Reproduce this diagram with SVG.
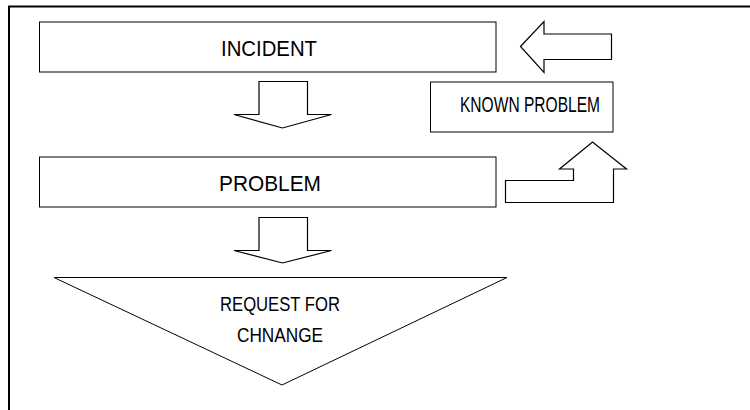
<svg xmlns="http://www.w3.org/2000/svg" width="750" height="410" viewBox="0 0 750 410">
  <style>
    .box { fill: #ffffff; stroke: #000000; stroke-width: 1; }
    .arrow { fill: #ffffff; stroke: #000000; stroke-width: 1.2; stroke-linejoin: miter; }
    .frame { fill: none; stroke: #000000; stroke-width: 2; }
    .label { font-family: "Liberation Sans", Arial, sans-serif; font-size: 22.5px; fill: #000000; text-anchor: middle; }
    .small { font-family: "Liberation Sans", Arial, sans-serif; font-size: 20px; fill: #000000; text-anchor: middle; }
  </style>
  <rect width="750" height="410" fill="#ffffff"/>
  <!-- outer frame: left and top edges only -->
  <path class="frame" d="M9,410 V6.5 H750"/>

  <g id="incident">
    <rect class="box" x="39.5" y="22" width="456.5" height="50"/>
    <text class="label" x="269" y="56" textLength="96" lengthAdjust="spacingAndGlyphs">INCIDENT</text>
  </g>

  <g id="known-problem">
    <rect class="box" x="430.5" y="82" width="182.5" height="50"/>
    <text class="label" x="530" y="112" textLength="140" lengthAdjust="spacingAndGlyphs">KNOWN PROBLEM</text>
  </g>

  <g id="problem">
    <rect class="box" x="39.5" y="157" width="456.5" height="50"/>
    <text class="label" x="270" y="191" textLength="102" lengthAdjust="spacingAndGlyphs">PROBLEM</text>
  </g>

  <g id="request-for-change">
    <polygon class="box" points="54,277.5 507,277.5 282,385"/>
    <text class="small" x="280" y="311" textLength="120" lengthAdjust="spacingAndGlyphs">REQUEST FOR</text>
    <text class="small" x="280" y="342" textLength="86" lengthAdjust="spacingAndGlyphs">CHNANGE</text>
  </g>

  <g id="connectors">
    <!-- block arrow: known problem back to incident -->
    <polygon class="arrow" points="520.5,46.5 544,21.5 544,34 611.5,34 611.5,59.5 544,59.5 544,72.5"/>
    <!-- block arrow: incident down to problem -->
    <polygon class="arrow" points="259,81.5 307.5,81.5 307.5,114.5 331.5,114.5 282.5,128 234,114.5 259,114.5"/>
    <!-- block arrow: problem down to request for change -->
    <polygon class="arrow" points="259,217.5 307.5,217.5 307.5,250.5 331.5,250.5 282.5,263 234,250.5 259,250.5"/>
    <!-- bent block arrow: problem up to known problem -->
    <polygon class="arrow" points="505.5,180.5 573.5,180.5 573.5,169 559.5,169 592.5,142 626.5,169 613.5,169 613.5,202.5 505.5,202.5"/>
  </g>
</svg>
